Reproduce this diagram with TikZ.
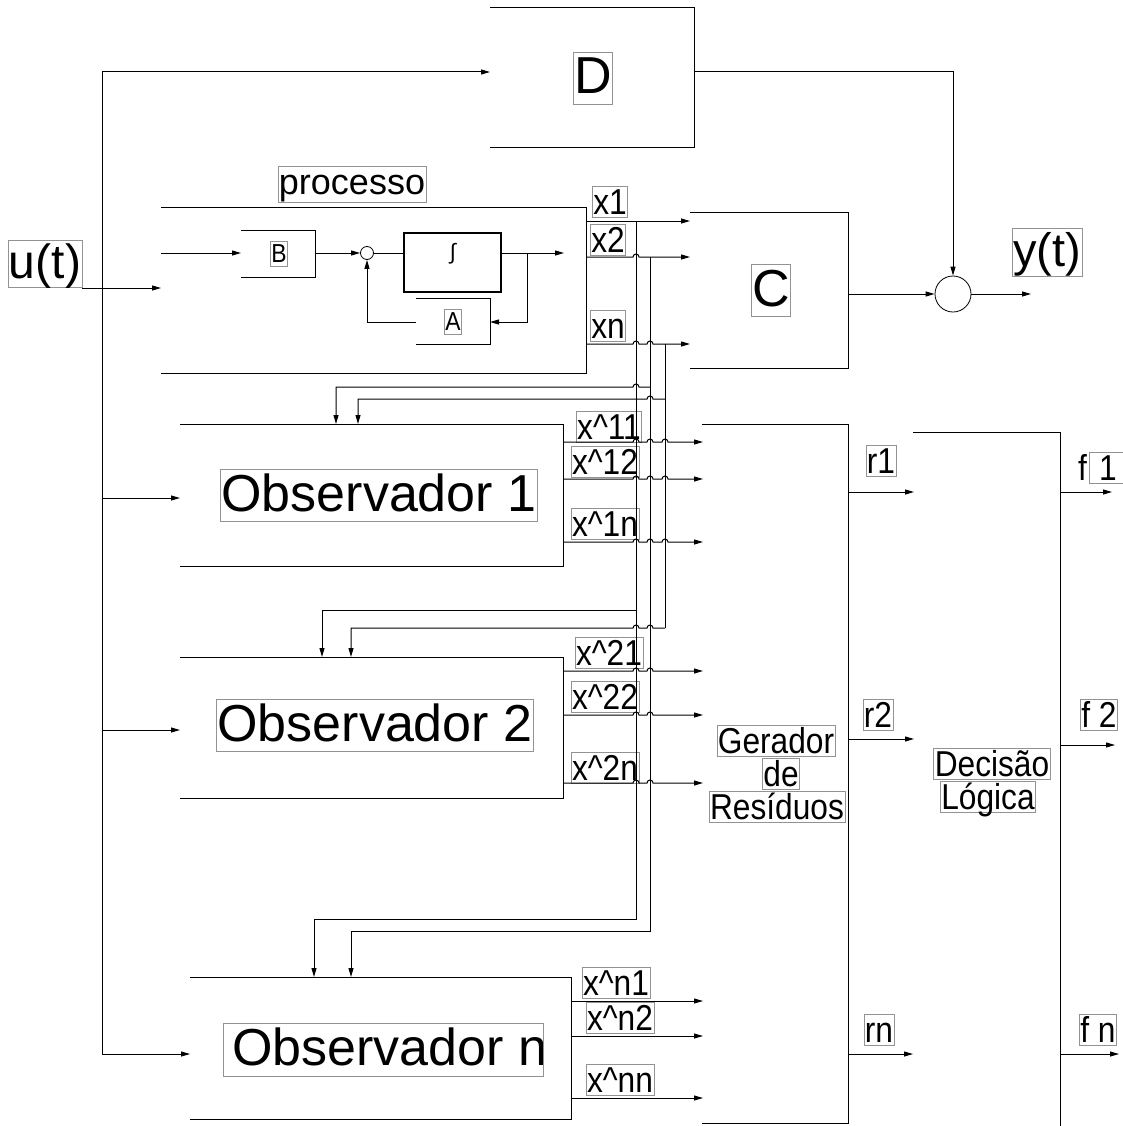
\documentclass[tikz,border=0pt]{standalone}
\usepackage{fontspec}
\setmainfont{Liberation Sans}
\newfontfamily\narrowf[FakeStretch=0.88]{Liberation Sans}
\usetikzlibrary{arrows.meta}
\begin{document}
\begin{tikzpicture}[x=1pt,y=-1pt,
  ln/.style={line width=1pt, black},
  arr/.style={ln, -{Triangle[length=9pt,width=5pt]}},
  frame/.style={draw=gray!85, line width=0.8pt, inner sep=1pt},
  smalltxt/.style={inner sep=1pt, text height=27pt, text depth=2pt, font=\narrowf\fontsize{36}{40}\selectfont},
  smalllbl/.style={smalltxt, frame},
  biglbl/.style={frame, text height=41pt, text depth=9pt, font=\fontsize{52}{60}\selectfont},
  tinylbl/.style={frame, text height=20pt, text depth=2.5pt, font=\narrowf\fontsize{26}{30}\selectfont},
  jsum/.style={circle, draw, line width=0.8pt, inner sep=0pt},
]
\useasboundingbox (0,0) rectangle (1123,1126);

% ---------- open boxes (top, right, bottom) ----------
\draw[ln] (490,8) -- (694,8) -- (694,148) -- (490,148);          % D
\draw[ln] (161,207) -- (586,207) -- (586,373) -- (161,373);      % processo
\draw[ln] (241,230) -- (315,230) -- (315,277) -- (241,277);      % B
\draw[ln] (416,298) -- (490,298) -- (490,344) -- (416,344);      % A
\draw[line width=2.6pt] (404,233) rectangle (501,292);           % integrator
\draw[ln] (690,212) -- (848,212) -- (848,368) -- (690,368);      % C
\draw[ln] (180,424) -- (563,424) -- (563,566) -- (180,566);      % Obs 1
\draw[ln] (180,657) -- (563,657) -- (563,798) -- (180,798);      % Obs 2
\draw[ln] (190,977) -- (571,977) -- (571,1119) -- (190,1119);    % Obs n
\draw[ln] (702,424) -- (848,424) -- (848,1123) -- (702,1123);    % Gerador
\draw[ln] (913,432) -- (1060,432) -- (1060,1126);                % Decisao

% ---------- labels ----------
\node (lD) [biglbl] at (593,78) {D};
\node (lC) [biglbl] at (771,290) {C};
\node (lu) [frame, text height=37pt, text depth=8.5pt, font=\fontsize{48}{56}\selectfont] at (45,264) {u(t)};
\node (ly) [frame, text height=37pt, text depth=9pt, font=\fontsize{47}{54}\selectfont] at (1047,252) {y(t)};
\node (lp) [frame, text height=27.5pt, text depth=6.5pt, font=\fontsize{36}{42}\selectfont] at (352,184) {processo};
\node (lB) [tinylbl] at (279,254) {B};
\node (lA) [tinylbl] at (453,322) {A};
\node (lint) [inner sep=0pt, font=\fontsize{22}{26}\selectfont] at (453,254) {∫};

\node (lx1) [smalllbl] at (610,202) {x1};
\node (lx2) [smalllbl] at (608,240) {x2};
\node (lxn) [smalllbl] at (608,326) {xn};

\node (lo1) [biglbl] at (379,495) {Observador 1};
\node (lo2) [biglbl] at (375,725) {Observador 2};
\begin{scope}
  \clip (223,1023) rectangle (543,1076);
  \node (lon) [anchor=west, inner sep=0pt, text height=41pt, text depth=9pt, font=\fontsize{52}{60}\selectfont] at (232,1049.5) {Observador n};
\end{scope}
\draw[draw=gray!85, line width=0.8pt] (223,1023) rectangle (543,1076);

\node (l11) [smalllbl] at (609,427) {x\^{}11};
\node (l12) [smalllbl] at (605,462) {x\^{}12};
\node (l1n) [smalllbl] at (605,524) {x\^{}1n};
\node (l21) [smalllbl] at (609,653) {x\^{}21};
\node (l22) [smalllbl] at (605,697) {x\^{}22};
\node (l2n) [smalllbl] at (605,768) {x\^{}2n};
\node (ln1) [smalllbl] at (616,983) {x\^{}n1};
\node (ln2) [smalllbl] at (620,1018) {x\^{}n2};
\node (lnn) [smalllbl] at (620,1080) {x\^{}nn};

\node (lr1) [smalllbl] at (881,461) {r1};
\node (lr2) [smalllbl] at (878,715) {r2};
\node (lrn) [smalllbl] at (879,1030) {rn};

\node (lf1a) [smalltxt, anchor=east] at (1088,468) {f};
\node (lf1) [smalllbl, anchor=west] at (1089,468) {\ 1\ \ };
\node (lf2) [smalllbl] at (1099,715) {f 2};
\node (lfn) [smalllbl] at (1098,1030) {f n};

\node (lg1) [smalllbl] at (776,741) {Gerador};
\node (lg2) [smalllbl] at (781,774) {de\ };
\node (lg3) [smalllbl] at (777,807) {Resíduos};
\node (ld1) [smalllbl] at (992,764) {Decisão\ };
\node (ld2) [smalllbl] at (988,797) {Lógica};

% ---------- summing junctions ----------
\node (sum) [jsum, minimum size=36pt] at (953,294) {};
\node (sj) [jsum, minimum size=13pt] at (367,253) {};

% ---------- input u(t) distribution ----------
\draw[ln] (102,72) -- (102,1054);
\draw[arr] (102,72) -- (490,72);
\draw[arr] (82,288) -- (161,288);
\draw[arr] (102,498) -- (180,498);
\draw[arr] (102,730) -- (180,730);
\draw[arr] (102,1054) -- (190,1054);

% ---------- D, C, output ----------
\draw[arr] (694,72) -| (sum.north);
\draw[arr] (848,294) -- (sum.west);
\draw[arr] (sum.east) -- (1031,294);

% ---------- process internals ----------
\draw[arr] (161,253) -- (241,253);
\draw[arr] (315,253) -- (sj.west);
\draw[ln] (sj.east) -- (404,253);
\draw[arr] (501,253) -- (564,253);
\draw[arr] (527,253) -- (527,322) -- (490,322);
\draw[arr] (416,322) -- (367,322) -- (sj.south);

% ---------- state outputs ----------
\draw[arr] (586,221) -- (690,221);
\draw[arr] (586,257) -- (633,257) arc[start angle=180,end angle=0,radius=3pt] -- (690,257);
\draw[arr] (586,344) -- (633,344) arc[start angle=180,end angle=0,radius=3pt]
  -- (647,344) arc[start angle=180,end angle=0,radius=3pt] -- (690,344);

% ---------- buses ----------
\draw[arr] (636,221) -- (636,919) -- (314,919) -- (314,977);
\draw[arr] (650,257) -- (650,931) -- (351,931) -- (351,977);
\draw[ln] (665,344) -- (665,628);
\draw[arr] (650,387) -- (639,387) arc[start angle=0,end angle=180,radius=3pt] -- (336,387) -- (336,424);
\draw[arr] (665,399) -- (653,399) arc[start angle=0,end angle=180,radius=3pt] -- (358,399) -- (358,424);
\draw[arr] (636,610) -- (322,610) -- (322,657);
\draw[arr] (665,628) -- (653,628) arc[start angle=0,end angle=180,radius=3pt]
  -- (639,628) arc[start angle=0,end angle=180,radius=3pt] -- (351,628) -- (351,657);

% ---------- observer 1 outputs ----------
\foreach \yy in {442,479,542}{
  \draw[arr] (563,\yy) -- (633,\yy) arc[start angle=180,end angle=0,radius=3pt]
    -- (647,\yy) arc[start angle=180,end angle=0,radius=3pt]
    -- (662,\yy) arc[start angle=180,end angle=0,radius=3pt] -- (703,\yy);
}
% ---------- observer 2 outputs ----------
\foreach \yy in {671,715,783}{
  \draw[arr] (563,\yy) -- (633,\yy) arc[start angle=180,end angle=0,radius=3pt]
    -- (647,\yy) arc[start angle=180,end angle=0,radius=3pt] -- (703,\yy);
}
% ---------- observer n outputs ----------
\foreach \yy in {1001,1036,1098}{
  \draw[arr] (571,\yy) -- (703,\yy);
}

% ---------- residuals and decisions ----------
\draw[arr] (848,492) -- (914,492);
\draw[arr] (848,739) -- (914,739);
\draw[arr] (848,1054) -- (913,1054);
\draw[arr] (1060,492) -- (1112,492);
\draw[arr] (1060,745) -- (1115,745);
\draw[arr] (1060,1054) -- (1119,1054);
\end{tikzpicture}
\end{document}
